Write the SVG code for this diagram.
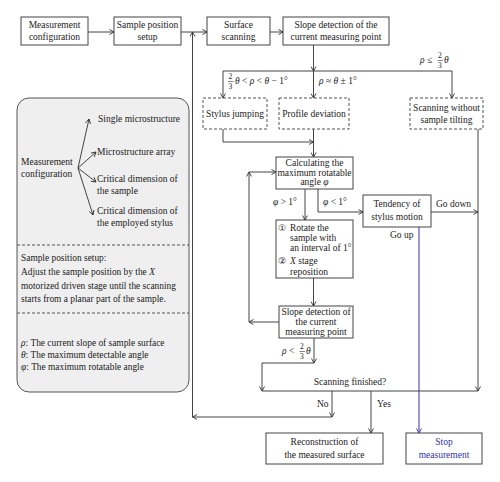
<svg xmlns="http://www.w3.org/2000/svg" width="500" height="482" viewBox="0 0 500 482">
<defs>
<marker id="ah" markerWidth="6" markerHeight="6" refX="5" refY="3" orient="auto" markerUnits="userSpaceOnUse">
<path d="M0.5,0.5 L5,3 L0.5,5.5" fill="none" stroke="#333" stroke-width="0.9"/>
</marker>
<marker id="ahb" markerWidth="6" markerHeight="6" refX="5" refY="3" orient="auto" markerUnits="userSpaceOnUse">
<path d="M0.5,0.5 L5,3 L0.5,5.5" fill="none" stroke="#3333aa" stroke-width="0.9"/>
</marker>
<style>
text{font-family:"Liberation Serif","Times New Roman",serif;font-size:9.5px;fill:#222}
.c{text-anchor:middle}
.s{font-size:9.4px}
.f{font-size:7.5px}
.i{font-style:italic}
.box{fill:#fff;stroke:#444;stroke-width:1}
.dbox{fill:#fff;stroke:#555;stroke-width:1;stroke-dasharray:3,2}
.ln{fill:none;stroke:#444;stroke-width:1}
.a{fill:none;stroke:#444;stroke-width:1;marker-end:url(#ah)}
.blue{fill:#3333aa}
.cn{font-family:"DejaVu Sans",sans-serif;font-size:9px}
</style>
</defs>
<rect width="500" height="482" fill="#fff"/>

<g id="panel">
<rect x="17" y="98" width="172" height="294" rx="12" fill="#efefef" stroke="#555" stroke-width="1"/>
<line x1="17" y1="245" x2="189" y2="245" stroke="#555" stroke-dasharray="3,2"/>
<line x1="17" y1="313" x2="189" y2="313" stroke="#555" stroke-dasharray="3,2"/>
<text x="21" y="165">Measurement</text>
<text x="21" y="177">configuration</text>
<path class="a" d="M78,168 L89,119"/>
<path class="a" d="M78,168 L96,152"/>
<path class="a" d="M78,168 L96,182"/>
<path class="a" d="M78,168 L93,215"/>
<text x="98" y="122">Single microstructure</text>
<text x="97" y="155">Microstructure array</text>
<text x="97" y="182">Critical dimension of</text>
<text x="97" y="194">the sample</text>
<text x="97" y="214">Critical dimension of</text>
<text x="97" y="226">the employed stylus</text>
<text class="s" x="21" y="261">Sample position setup:</text>
<text class="s" x="21" y="275">Adjust the sample position by the <tspan class="i">X</tspan></text>
<text class="s" x="21" y="289">motorized driven stage until the scanning</text>
<text class="s" x="21" y="302">starts from a planar part of the sample.</text>
<text class="s" x="21" y="346"><tspan class="i">ρ</tspan>: The current slope of sample surface</text>
<text class="s" x="21" y="358"><tspan class="i">θ</tspan>: The maximum detectable angle</text>
<text class="s" x="21" y="370"><tspan class="i">φ</tspan>: The maximum rotatable angle</text>
</g>

<g id="n-config">
<rect class="box" x="21" y="17" width="67" height="28"/>
<text class="c" x="54.5" y="27.5">Measurement</text>
<text class="c" x="54.5" y="40">configuration</text>
</g>
<g id="n-setup">
<rect class="box" x="114" y="17" width="67" height="28"/>
<text class="c" x="147.5" y="27.5">Sample position</text>
<text class="c" x="147.5" y="40">setup</text>
</g>
<g id="n-scan">
<rect class="box" x="207" y="17" width="63" height="28"/>
<text class="c" x="238.5" y="27.5">Surface</text>
<text class="c" x="238.5" y="40">scanning</text>
</g>
<g id="n-slope1">
<rect class="box" x="283" y="17" width="106" height="28"/>
<text class="c" x="336" y="27.5">Slope detection of the</text>
<text class="c" x="336" y="40">current measuring point</text>
</g>
<g id="n-jump">
<rect class="dbox" x="203" y="98" width="64" height="31"/>
<text class="c" x="235" y="117">Stylus jumping</text>
</g>
<g id="n-dev">
<rect class="dbox" x="279" y="98" width="70" height="31"/>
<text class="c" x="314" y="117">Profile deviation</text>
</g>
<g id="n-notilt">
<rect class="dbox" x="410" y="98" width="73" height="31"/>
<text class="c" x="446.5" y="111">Scanning without</text>
<text class="c" x="446.5" y="123">sample tilting</text>
</g>
<g id="n-calc">
<rect class="box" x="276" y="157" width="77" height="32"/>
<text class="c" x="314.5" y="166">Calculating the</text>
<text class="c" x="314.5" y="175.5">maximum rotatable</text>
<text class="c" x="314.5" y="185">angle <tspan class="i">φ</tspan></text>
</g>
<g id="n-rotate">
<rect class="box" x="276" y="220" width="77" height="58"/>
<text class="cn" x="278" y="231">①</text>
<text x="290" y="231">Rotate the</text>
<text x="290" y="241">sample with</text>
<text x="290" y="251">an interval of 1°</text>
<text class="cn" x="278" y="264">②</text>
<text x="290" y="264"><tspan class="i">X</tspan> stage</text>
<text x="290" y="275">reposition</text>
</g>
<g id="n-slope2">
<rect class="box" x="279" y="306" width="74" height="32"/>
<text class="c" x="316" y="315">Slope detection of</text>
<text class="c" x="316" y="325">the current</text>
<text class="c" x="316" y="334.5">measuring point</text>
</g>
<g id="n-tend">
<rect class="box" x="363" y="195" width="68" height="32"/>
<text class="c" x="397" y="207">Tendency of</text>
<text class="c" x="397" y="220">stylus motion</text>
</g>
<g id="n-recon">
<rect class="box" x="266" y="433" width="117" height="31"/>
<text class="c" x="324.5" y="445">Reconstruction of</text>
<text class="c" x="324.5" y="457.5">the measured surface</text>
</g>
<g id="n-stop">
<rect class="box" x="406" y="433" width="76" height="31"/>
<text class="c blue" x="444" y="445">Stop</text>
<text class="c blue" x="444" y="457.5">measurement</text>
</g>

<g id="connectors">
<path class="a" d="M88,32 H114"/>
<path class="a" d="M181,32 H207"/>
<path class="a" d="M270,32 H283"/>
<path class="a" d="M313.5,45 V71"/>
<path class="ln" d="M223,71 H452"/>
<path class="a" d="M223,71 V98"/>
<path class="a" d="M313.5,71 V98"/>
<path class="a" d="M452,71 V98"/>
<path class="a" d="M223,129 V142 H313.5"/>
<path class="a" d="M313.5,129 V157"/>
<path class="a" d="M305,189 V220"/>
<path class="a" d="M318,189 V212 H363"/>
<path class="a" d="M313.5,278 V306"/>
<path class="a" d="M279,322 H249"/>
<path class="a" d="M249,322 V172"/>
<path class="a" d="M249,172 H276"/>
<path class="a" d="M314,338 V363"/>
<path class="a" d="M314,363 H262 V391"/>
<path class="a" d="M478,129 V391"/>
<path class="a" d="M431,212 H478"/>
<path class="ln" d="M262,391 H478"/>
<path class="a" d="M332,391 V417"/>
<path class="a" d="M332,417 H192.5"/>
<path class="a" d="M192.5,417 V32"/>
<path class="a" d="M371,391 V433"/>
<path d="M419,227 V433" fill="none" stroke="#3333aa" stroke-width="1" marker-end="url(#ahb)"/>

<text class="f" x="228.5" y="79">2</text>
<line x1="228" y1="81.5" x2="233.5" y2="81.5" stroke="#333" stroke-width="0.6"/>
<text class="f" x="228.5" y="89">3</text>
<text x="235" y="84"><tspan class="i">θ</tspan> &lt; <tspan class="i">ρ</tspan> &lt; <tspan class="i">θ</tspan> − 1°</text>
<text x="319" y="84"><tspan class="i">ρ</tspan> ≈ <tspan class="i">θ</tspan> ± 1°</text>
<text x="420" y="63"><tspan class="i">ρ</tspan> ≤</text>
<text class="f" x="438" y="58">2</text>
<line x1="437.5" y1="60.5" x2="443" y2="60.5" stroke="#333" stroke-width="0.6"/>
<text class="f" x="438" y="68">3</text>
<text class="i" x="444" y="63">θ</text>
<text x="273" y="205"><tspan class="i">φ</tspan> &gt; 1°</text>
<text x="323" y="205"><tspan class="i">φ</tspan> &lt; 1°</text>
<text x="436" y="207">Go down</text>
<text x="390" y="238">Go up</text>
<text x="282" y="354"><tspan class="i">ρ</tspan> &lt;</text>
<text class="f" x="300" y="349">2</text>
<line x1="299.5" y1="351.5" x2="305" y2="351.5" stroke="#333" stroke-width="0.6"/>
<text class="f" x="300" y="359">3</text>
<text class="i" x="306" y="354">θ</text>
<text class="c" x="350" y="385">Scanning finished?</text>
<text x="317" y="407">No</text>
<text x="377" y="407">Yes</text>
</g>
</svg>
